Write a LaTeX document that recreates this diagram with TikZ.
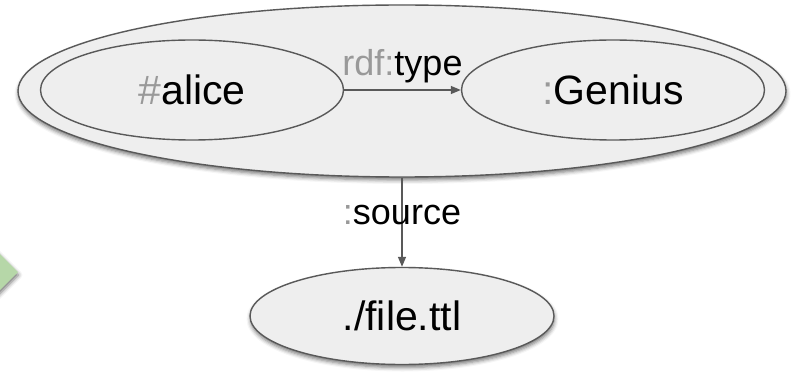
\documentclass[tikz,border=0pt]{standalone}
\usepackage{fontspec}
\setmainfont{Liberation Sans}
\usetikzlibrary{shapes.geometric,shadows.blur,arrows.meta}

\definecolor{nodefill}{HTML}{EEEEEE}
\definecolor{edgegray}{HTML}{595959}
\definecolor{prefixgray}{HTML}{999999}
\definecolor{chevgreen}{HTML}{B6D7A8}

\tikzset{
  softshadow/.style={blur shadow={shadow xshift=0.5pt, shadow yshift=-3pt,
      shadow blur radius=4pt, shadow opacity=55}},
  termnode/.style={ellipse, draw=edgegray, line width=1.4pt, fill=nodefill,
      inner sep=0pt, font=\fontsize{41}{41}\selectfont},
  graphnode/.style={ellipse, draw=edgegray, line width=1.4pt, fill=nodefill,
      inner sep=0pt, softshadow},
  link/.style={draw=edgegray, line width=1.4pt,
      -{Triangle[length=10pt,width=8pt]}},
  linklabel/.style={inner sep=0pt, font=\fontsize{36}{36}\selectfont}
}
\newcommand{\px}[1]{\textcolor{prefixgray}{#1}}

\begin{document}
\begin{tikzpicture}[x=1pt,y=-1pt]
  \useasboundingbox (0,0) rectangle (792,374);

  % green chevron peeking in from the left margin
  \fill[chevgreen, softshadow] (-30,224) -- (18,272) -- (-30,320) -- cycle;

  % named graph holding the statement
  \node[graphnode, minimum width=768pt, minimum height=172pt] (graph) at (402,91) {};

  % statement terms
  \node[termnode, minimum width=303pt, minimum height=100pt] (alice) at (192,90) {\px{\#}alice};
  \node[termnode, minimum width=303pt, minimum height=100pt] (genius) at (613,90) {\px{:}Genius};

  % source file of the graph
  \node[graphnode, minimum width=304pt, minimum height=97pt,
        font=\fontsize{41}{41}\selectfont] (file) at (402,316) {./file.ttl};

  % edges
  \draw[link] (alice) -- node[linklabel, above=6pt] {\px{rdf:}type} (genius);
  \draw[link] (graph.south) -- node[linklabel, pos=0.42] {\px{:}source} (file.north);
\end{tikzpicture}
\end{document}
